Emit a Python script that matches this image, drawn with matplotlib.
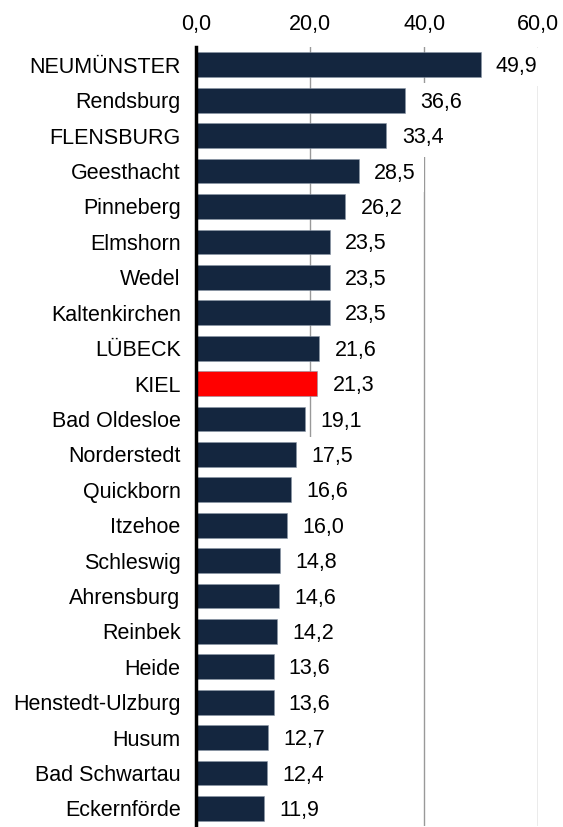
import matplotlib.pyplot as plt
from matplotlib.ticker import FuncFormatter

plt.rcParams['font.family'] = ['Liberation Sans', 'DejaVu Sans']

cities = [
    "NEUMÜNSTER", "Rendsburg", "FLENSBURG", "Geesthacht", "Pinneberg",
    "Elmshorn", "Wedel", "Kaltenkirchen", "LÜBECK", "KIEL",
    "Bad Oldesloe", "Norderstedt", "Quickborn", "Itzehoe", "Schleswig",
    "Ahrensburg", "Reinbek", "Heide", "Henstedt-Ulzburg", "Husum",
    "Bad Schwartau", "Eckernförde",
]
values = [
    49.9, 36.6, 33.4, 28.5, 26.2,
    23.5, 23.5, 23.5, 21.6, 21.3,
    19.1, 17.5, 16.6, 16.0, 14.8,
    14.6, 14.2, 13.6, 13.6, 12.7,
    12.4, 11.9,
]
highlight = "KIEL"

navy = "#14263f"
red = "#ff0000"
fs = 15.5

fig = plt.figure(figsize=(5.63, 8.27), dpi=100)
ax = fig.add_axes([0.348, 0.001, 0.608, 0.942])

colors = [red if c == highlight else navy for c in cities]
ypos = list(range(len(cities)))
ax.barh(ypos, values, height=0.7, color=colors, edgecolor="#8a96a6",
        linewidth=0.4, zorder=2)

for y, v in zip(ypos, values):
    ax.annotate(f"{v:.1f}".replace(".", ","), xy=(v, y), xytext=(11, -1.5),
                textcoords="offset points", va="center", ha="left",
                fontsize=fs, zorder=4,
                bbox=dict(boxstyle="square,pad=0.4", fc="white", ec="none"))

ax.set_xlim(0, 60)
ax.set_ylim(len(cities) - 0.5, -0.5)
ax.set_yticks(ypos)
ax.set_yticklabels(cities, fontsize=fs)
ax.set_xticks([0, 20, 40, 60])
ax.xaxis.set_major_formatter(FuncFormatter(lambda x, p: f"{x:.1f}".replace(".", ",")))
ax.xaxis.tick_top()
ax.tick_params(axis="x", length=0, labelsize=fs, pad=9)
ax.tick_params(axis="y", length=0, pad=11)

for gx in [20, 40, 60]:
    ax.axvline(gx, color="#999999", linewidth=1.0, zorder=1)

for side in ["top", "right", "bottom"]:
    ax.spines[side].set_visible(False)
ax.spines["left"].set_linewidth(2.5)
ax.spines["left"].set_color("black")
ax.spines["left"].set_zorder(3)

fig.savefig("out.png", dpi=100)
